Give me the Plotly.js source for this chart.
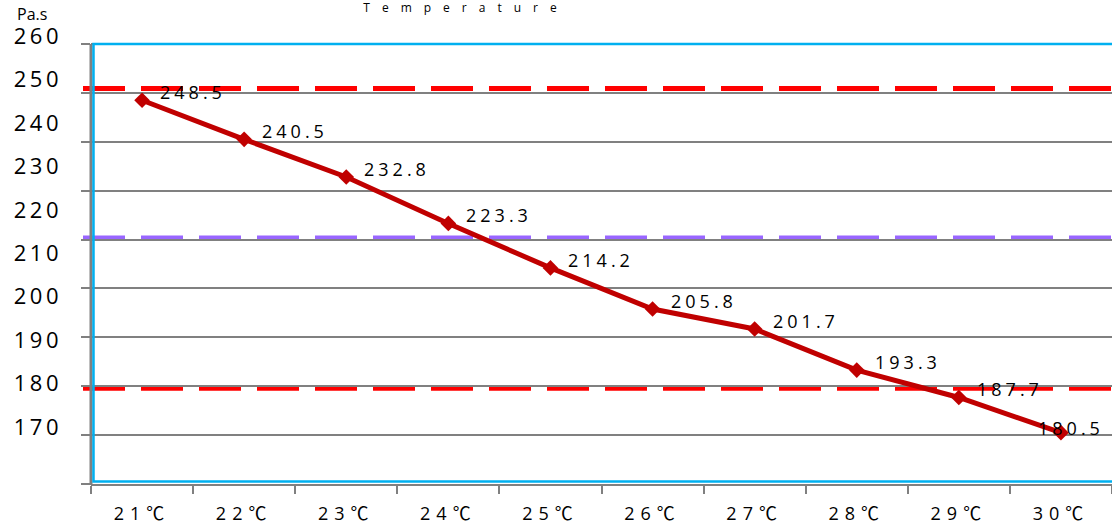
<!DOCTYPE html>
<html>
<head>
<meta charset="utf-8">
<script src="https://cdn.plot.ly/plotly-3.0.1.min.js"></script>
<style>
  html, body { margin: 0; padding: 0; background: #fff; }
  #chart { width: 1112px; height: 529px; }
  .xtick text { letter-spacing: 6px; }
  .y2tick text { letter-spacing: 3.5px; }
</style>
</head>
<body>
<div id="chart"></div>
<script>
// ---- data ----
var categories = ['21℃', '22℃', '23℃', '24℃', '25℃', '26℃', '27℃', '28℃', '29℃', '30℃'];
var viscosity = [248.5, 240.5, 232.8, 223.3, 214.2, 205.8, 201.7, 193.3, 187.7, 180.5];
var upperLimit = 250.9;
var targetLine = 220.3;
var lowerLimit = 189.6;
var yTickValues = [260, 250, 240, 230, 220, 210, 200, 190, 180, 170];
var yTickLabels = ['260', '250', '240', '230', '220', '210', '200', '190', '180', '170'];
var gridValues = [170, 180, 190, 200, 210, 220, 230, 240, 250, 260];
var titleText = 'Temperature';
var unitText = 'Pa.s';

var FONT = 'Open Sans, Noto Sans CJK SC, sans-serif';

// plot area: x 91..1112, y 30..484 ; value axis 170 (y=484) .. 260 (y=44)
var PLOT_H = 454;
var TOP_FRAC = 440 / PLOT_H;

var mainTrace = {
  type: 'scatter',
  mode: 'lines+markers',
  x: categories,
  y: viscosity,
  xaxis: 'x',
  yaxis: 'y',
  line: { color: '#C00000', width: 5 },
  marker: { symbol: 'diamond', size: 12, color: '#C00000' },
  hoverinfo: 'x+y',
  showlegend: false
};

var labelAxisTrace = {
  type: 'scatter',
  mode: 'markers',
  x: [],
  y: [],
  xaxis: 'x',
  yaxis: 'y2',
  showlegend: false,
  hoverinfo: 'skip'
};

var annotations = viscosity.map(function (v, i) {
  var last = i === viscosity.length - 1;
  return {
    x: categories[i],
    y: v,
    xref: 'x',
    yref: 'y',
    text: '<span style="letter-spacing:4px">' + v.toFixed(1) + '</span>',
    showarrow: false,
    xanchor: 'left',
    yanchor: 'middle',
    xshift: last ? -25 : 16,
    yshift: last ? 5 : 8,
    font: { family: FONT, size: 18, color: '#000' }
  };
});

annotations.push({
  xref: 'paper', yref: 'paper',
  x: -76 / 1021, y: (484 - 14) / PLOT_H,
  xanchor: 'left', yanchor: 'middle',
  text: unitText,
  showarrow: false,
  font: { family: FONT, size: 16, color: '#000' }
});

function hline(y, color) {
  return {
    type: 'line', xref: 'paper', yref: 'y',
    x0: -8 / 1021, x1: 1.02, y0: y, y1: y,
    line: { color: color, width: 5, dash: '42px,16px' },
    layer: 'between'
  };
}

var shapes = [
  // gray value-axis line (only over the 170..260 span)
  {
    type: 'line', xref: 'paper', yref: 'paper',
    x0: 0, x1: 0, y0: -1 / PLOT_H, y1: TOP_FRAC,
    line: { color: '#808080', width: 3 },
    layer: 'above'
  },
  hline(upperLimit, '#FF0000'),
  hline(targetLine, '#9966FF'),
  hline(lowerLimit, '#FF0000'),
  {
    type: 'rect', xref: 'paper', yref: 'paper',
    x0: 2.5 / 1021, x1: 1.02,
    y0: 2.5 / PLOT_H, y1: TOP_FRAC,
    line: { color: '#00B0F0', width: 2.5 },
    fillcolor: 'rgba(0,0,0,0)',
    layer: 'above'
  }
];

var yTop = 260 + 14 / (440 / 90);

var layout = {
  width: 1112,
  height: 529,
  margin: { l: 91, r: 0, t: 30, b: 45 },
  paper_bgcolor: '#ffffff',
  plot_bgcolor: '#ffffff',
  showlegend: false,
  title: {
    text: '<span style="letter-spacing:12px">' + titleText + '</span>',
    font: { family: FONT, size: 12, color: '#000' },
    x: 466 / 1112, xanchor: 'center', xref: 'container',
    y: 1 - 8 / 529, yanchor: 'middle', yref: 'container'
  },
  xaxis: {
    type: 'category',
    anchor: 'y',
    domain: [0, 1],
    range: [-0.5, categories.length - 0.5],
    autorange: false,
    showgrid: false,
    zeroline: false,
    showline: true,
    linecolor: '#808080',
    linewidth: 2,
    ticks: 'outside',
    tickson: 'boundaries',
    ticklen: 8,
    tickwidth: 2,
    tickcolor: '#808080',
    ticklabelstandoff: 12,
    tickfont: { family: FONT, size: 18, color: '#000' },
    fixedrange: true
  },
  yaxis: {
    anchor: 'x',
    domain: [0, 1],
    range: [170, yTop],
    autorange: false,
    tickmode: 'array',
    tickvals: gridValues,
    showgrid: true,
    gridcolor: '#808080',
    gridwidth: 2,
    zeroline: false,
    showline: false,
    ticks: 'outside',
    ticklen: 9,
    tickwidth: 2,
    tickcolor: '#808080',
    showticklabels: false,
    fixedrange: true
  },
  yaxis2: {
    anchor: 'x',
    overlaying: 'y',
    side: 'left',
    range: [156.87, 261.45],
    autorange: false,
    tickmode: 'array',
    tickvals: yTickValues,
    ticktext: yTickLabels,
    showgrid: false,
    zeroline: false,
    showline: false,
    ticks: '',
    ticklabelstandoff: 28,
    tickfont: { family: FONT, size: 22, color: '#000' },
    fixedrange: true
  },
  shapes: shapes,
  annotations: annotations
};

Plotly.newPlot('chart', [mainTrace, labelAxisTrace], layout, { displayModeBar: false, staticPlot: true });
</script>
</body>
</html>
